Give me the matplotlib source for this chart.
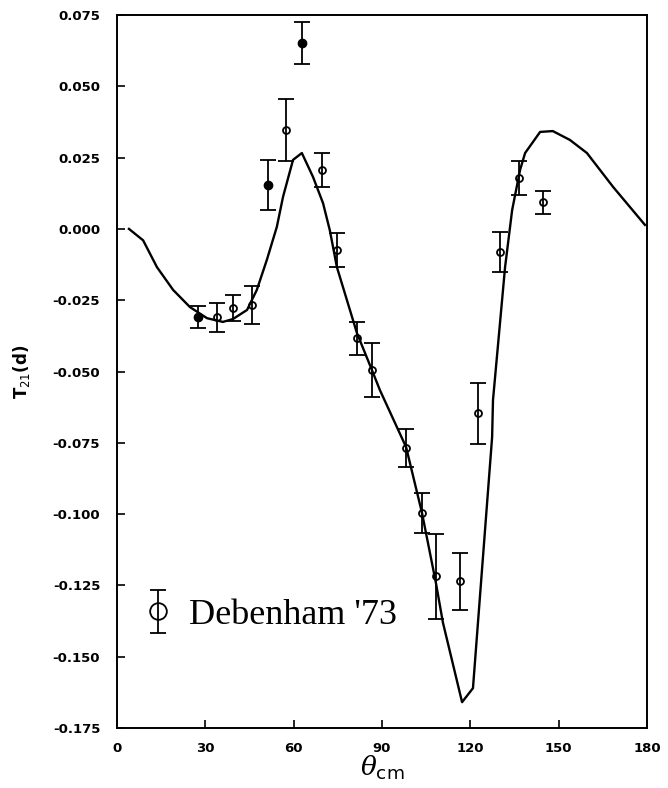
import numpy as np
import matplotlib
matplotlib.use('Agg')
import matplotlib.pyplot as plt
from matplotlib.container import ErrorbarContainer
from matplotlib.legend_handler import HandlerErrorbar

# theory curve
theta_fit = [4.1, 8.9, 13.6, 19.1, 24.8, 30.6, 36.0, 39.4, 44.2, 47.5, 50.9,
             54.3, 56.4, 59.8, 62.8, 66.6, 70.0, 72.3, 74.7, 81.5, 86.6, 89.3,
             98.2, 103.6, 108.3, 110.7, 117.2, 120.9, 127.4, 127.7, 131.8,
             134.2, 136.9, 138.6, 143.7, 148.0, 153.8, 159.6, 168.5, 179.3]
t21_fit = [0.000, -0.004, -0.0134, -0.0214, -0.0274, -0.0313, -0.0326,
           -0.0316, -0.0284, -0.0214, -0.0109, 0.0007, 0.0112, 0.0242, 0.0266,
           0.0182, 0.009, -0.0005, -0.0134, -0.0365, -0.0495, -0.0565,
           -0.0765, -0.0996, -0.124, -0.138, -0.1659, -0.161, -0.073, -0.060,
           -0.0134, 0.0066, 0.0207, 0.0266, 0.034, 0.0343, 0.0312, 0.0266,
           0.0147, 0.0014]

# Debenham '73 data, open symbols
theta_open = [34.0, 39.4, 45.8, 57.4, 69.6, 74.7, 81.5, 86.6, 98.2, 103.6,
              108.3, 116.5, 122.6, 130.1, 136.5, 144.7]
t21_open = [-0.031, -0.0277, -0.0267, 0.0347, 0.0206, -0.0074, -0.0383,
            -0.0495, -0.0768, -0.0996, -0.1217, -0.1235, -0.0646, -0.0081,
            0.0178, 0.0094]
err_open = [0.005, 0.0047, 0.0068, 0.011, 0.006, 0.006, 0.0058, 0.0095,
            0.0068, 0.007, 0.0149, 0.010, 0.0107, 0.007, 0.006, 0.004]

# filled symbols
theta_fill = [27.5, 51.3, 62.8]
t21_fill = [-0.0309, 0.0154, 0.0652]
err_fill = [0.004, 0.0088, 0.0075]

x_ticks = [0, 30, 60, 90, 120, 150, 180]
y_ticks = [0.075, 0.050, 0.025, 0.000, -0.025, -0.050, -0.075, -0.100,
           -0.125, -0.150, -0.175]

fig = plt.figure(figsize=(6.68, 7.88), dpi=100)
ax = fig.add_axes([0.175, 0.076, 0.7936, 0.905])

ax.plot(theta_fit, t21_fit, color='black', lw=1.7)

eb = ax.errorbar(theta_open, t21_open, yerr=err_open, fmt='o', ms=5,
                 mfc='none', mec='black', mew=1.3, color='black',
                 ecolor='black', elinewidth=1.3, capsize=6, capthick=1.3,
                 label="Debenham '73")
ax.errorbar(theta_fill, t21_fill, yerr=err_fill, fmt='o', ms=6,
            mfc='black', mec='black', color='black', ecolor='black',
            elinewidth=1.3, capsize=6, capthick=1.3)

ax.set_xlim(0, 180)
ax.set_ylim(-0.175, 0.075)
ax.set_xticks(x_ticks)
ax.set_yticks(y_ticks)
ax.set_yticklabels([f'{v:.3f}' for v in y_ticks])
ax.tick_params(direction='in', length=6, width=1.2, top=False, right=False)
ax.tick_params(axis='y', pad=12)
ax.tick_params(axis='x', pad=10)
for lab in ax.get_xticklabels() + ax.get_yticklabels():
    lab.set_fontweight('bold')
    lab.set_fontsize(9.5)
for sp in ax.spines.values():
    sp.set_linewidth(1.4)

ax.set_xlabel(r'$\theta_{\mathsf{cm}}$', fontsize=19,
              math_fontfamily='dejavuserif', labelpad=-1)
ax.set_ylabel(r'T$_{21}$(d)', fontsize=12, fontweight='bold')
ax.yaxis.set_label_coords(-0.16, 0.50)

leg = ax.legend(handles=[eb], loc='center left',
                bbox_to_anchor=(0.019, 0.158), borderaxespad=0,
                frameon=False, markerscale=2.4,
                handlelength=0.9, handletextpad=0.42,
                handler_map={ErrorbarContainer: HandlerErrorbar(yerr_size=0.6)},
                prop={'family': 'Liberation Serif', 'size': 26})

fig.savefig('out.png', dpi=100, facecolor='white')
